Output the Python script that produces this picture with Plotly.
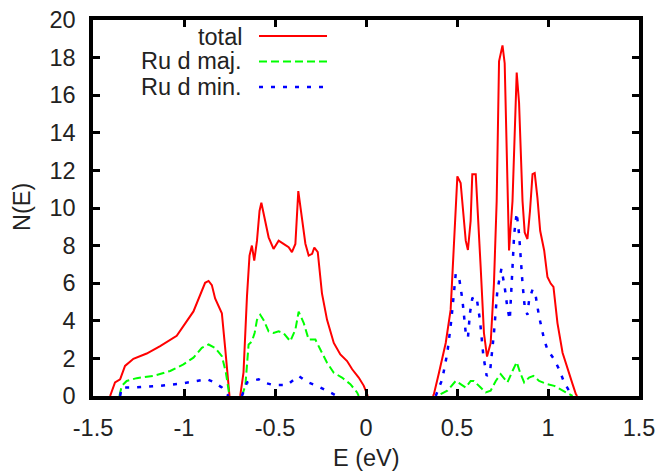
import plotly.graph_objects as go

# ---- data (E in eV, N(E)) ----
# total DOS
e_total = [-1.406, -1.379, -1.351, -1.324, -1.278, -1.205, -1.131, -1.04, -0.948, -0.911, -0.884, -0.865,
           -0.847, -0.829, -0.81, -0.792, -0.773, -0.755, -0.75, None, -0.691, -0.673, -0.654, -0.64, -0.627,
           -0.614, -0.599, -0.585, -0.575, -0.559, -0.535, -0.508, -0.48, -0.453, -0.425, -0.407, -0.388,
           -0.372, -0.351, -0.333, -0.315, -0.296, -0.284, -0.265, -0.242, -0.214, -0.177, -0.141, -0.104,
           -0.076, -0.04, -0.012, 0.006, 0.01, None, 0.368, 0.373, 0.401, 0.438, 0.465, 0.483, 0.502, 0.52, 0.548,
           0.56, 0.575, 0.584, 0.603, 0.63, 0.648, 0.665, 0.685, 0.703, 0.718, 0.731, 0.75, 0.762, 0.786,
           0.805, 0.828, 0.841, 0.86, 0.872, 0.887, 0.901, 0.915, 0.927, 0.942, 0.957, 0.979, 0.997, 1.015,
           1.03, 1.052, 1.08, 1.107, 1.135, 1.153, 1.16]
n_total = [0, 0.72, 0.89, 1.6, 1.98, 2.26, 2.65, 3.2, 4.5, 5.37, 6.02, 6.12,
           5.9, 5.19, 4.75, 4.4, 2.47, 0.2, 0, None, 0, 1.25, 5.3, 7.47, 8.0,
           7.2, 8.26, 9.84, 10.28, 9.49, 8.44, 7.82, 8.26, 8.09, 7.91, 7.65, 8.09,
           10.9, 9.3, 8.1, 7.47, 7.56, 7.9, 7.65, 5.46, 4.05, 2.82, 2.21, 1.86,
           1.42, 0.98, 0.54, 0.1, 0, None, 0, 0.1, 1.24, 2.82, 4.58, 8.09, 11.68, 11.33, 8.26,
           7.77, 9.32, 11.8, 11.8, 6.86, 3.35, 2.1, 2.82, 5.98, 10.37, 17.8, 18.65, 17.7, 7.74,
           10.37, 17.2, 15.6, 10.37, 8.7, 8.35, 9.84, 11.8, 11.86, 10.54, 8.79, 7.74, 6.33, 5.98,
           5.8, 3.88, 2.3, 1.42, 0.63, 0.1, 0]

# Ru d majority
e_maj = [-1.355, -1.342, -1.315, -1.26, -1.168, -1.076, -1.003, -0.948, -0.902, -0.865, -0.829,
         -0.792, -0.77, -0.755, -0.75, None, -0.682, -0.663, -0.645, -0.627, -0.612, -0.599, -0.581, -0.563,
         -0.535, -0.508, -0.48, -0.453, -0.416, -0.388, -0.37, -0.342, -0.315, -0.278, -0.251, -0.214,
         -0.177, -0.132, -0.086, -0.049, -0.04, None, 0.41, 0.447, 0.493, 0.52, 0.548, 0.575, 0.593, 0.63,
         0.658, 0.685, 0.713, 0.74, 0.762, 0.777, 0.805, 0.828, 0.847, 0.869, 0.896, 0.92, 0.951, 0.997,
         1.034, 1.08, 1.116, 1.135]
n_maj = [0, 0.54, 0.8, 0.95, 1.07, 1.33, 1.68, 2.04, 2.56, 2.74, 2.56,
         2.12, 1.25, 0.2, 0, None, 0, 0.54, 2.74, 2.9, 3.35, 4.05, 4.32, 4.05,
         3.44, 3.35, 3.44, 3.35, 2.91, 3.53, 4.49, 3.88, 3.0, 3.0, 2.47, 1.77,
         1.24, 0.98, 0.63, 0.19, 0, None, 0.1, 0.28, 0.8, 0.63, 0.45, 0.8, 0.8, 0.45,
         0.19, 0.28, 0.8, 1.16, 0.89, 0.72, 1.33, 1.8, 1.24, 0.72, 0.98, 1.07, 0.8, 0.63,
         0.54, 0.28, 0.1, 0]

# Ru d minority
e_min = [-1.351, -1.342, -1.278, -1.131, -1.003, -0.929, -0.874, -0.838, -0.792, -0.764, -0.755,
         None, -0.682, -0.654, -0.627, -0.59, -0.563, -0.508, -0.434, -0.37, -0.324, -0.269, -0.214, -0.159,
         None, 0.383, 0.419, 0.447, 0.469, 0.493, 0.511, 0.53, 0.548, 0.56, 0.571, 0.584, 0.607, 0.626, 0.645,
         0.663, 0.681, 0.703, 0.722, 0.744, 0.762, 0.777, 0.79, 0.805, 0.814, 0.828, 0.841, 0.86, 0.872,
         0.887, 0.896, 0.915, 0.933, 0.951, 0.979, 0.997, 1.034, 1.061, 1.089, 1.116, 1.135]
n_min = [0, 0.45, 0.45, 0.54, 0.68, 0.8, 0.89, 0.75, 0.45, 0.1, 0,
         None, 0, 0.72, 0.8, 0.89, 0.72, 0.58, 0.58, 1.07, 0.75, 0.54, 0.28, 0,
         None, 0, 0.89, 2.3, 4.05, 6.5, 6.33, 5.1, 3.35, 3.09, 4.4, 5.19, 5.28, 4.05, 2.12,
         1.07, 1.24, 3.35, 5.63, 6.77, 5.8, 4.67, 4.05, 6.86, 8.6, 9.75, 8.6, 5.98, 4.75,
         4.32, 5.1, 5.66, 5.28, 4.23, 3.0, 2.47, 1.95, 1.42, 0.72, 0.28, 0]

x_ticks = [-1.5, -1, -0.5, 0, 0.5, 1, 1.5]
x_ticklabels = ["-1.5", "-1", "-0.5", "0", "0.5", "1", "1.5"]
y_ticks = [0, 2, 4, 6, 8, 10, 12, 14, 16, 18, 20]
y_ticklabels = ["0", "2", "4", "6", "8", "10", "12", "14", "16", "18", "20"]

series_names = ["total", "Ru d maj.", "Ru d min."]
colors = ["#ff0000", "#00ff00", "#0000ff"]
dashes = ["solid", "8px,4px", "4px,8px"]
widths = [2, 2, 2.5]

font_family = "Liberation Sans, Arial, sans-serif"
text_color = "#222222"
fs = 23.5

W, H = 663, 476
ml, mr, mt, mb = 85, 32, 12, 88
page_off = 8
plot_left = page_off + ml
plot_top = page_off + mt
pw = W - ml - mr
ph = H - mt - mb
plot_bottom = plot_top + ph


def px_x(p):
    return (p - plot_left) / pw


def px_y(p):
    return (plot_bottom - p) / ph


fig = go.Figure()
for xs, ys, name, c, d, w in zip([e_total, e_maj, e_min], [n_total, n_maj, n_min],
                                 series_names, colors, dashes, widths):
    fig.add_trace(go.Scatter(x=xs, y=ys, mode="lines", name=name, connectgaps=False,
                             line=dict(color=c, width=w, dash=d), showlegend=False))

# gnuplot-style key: right-aligned text followed by the line sample
legend_rows_y = [36.5, 61.5, 86.5]
sample_rows_y = [36, 61.5, 87]
text_right = 244
samp_x0, samp_x1 = 259, 327
for name, c, d, w, ty, sy in zip(series_names, colors, dashes, widths, legend_rows_y, sample_rows_y):
    fig.add_annotation(x=px_x(text_right), y=px_y(ty), xref="paper", yref="paper",
                       text=name, showarrow=False, xanchor="right", yanchor="middle",
                       font=dict(family=font_family, size=fs, color=text_color))
    fig.add_shape(type="line", xref="paper", yref="paper",
                  x0=px_x(samp_x0), x1=px_x(samp_x1), y0=px_y(sy), y1=px_y(sy),
                  line=dict(color=c, width=w, dash=d))

# axis titles
fig.add_annotation(x=px_x(366), y=px_y(458), xref="paper", yref="paper", text="E (eV)",
                   showarrow=False, xanchor="center", yanchor="middle",
                   font=dict(family=font_family, size=fs, color=text_color))
fig.add_annotation(x=px_x(22), y=px_y(207), xref="paper", yref="paper", text="N(E)",
                   showarrow=False, xanchor="center", yanchor="middle", textangle=-90,
                   font=dict(family=font_family, size=fs, color=text_color))

axis_common = dict(showline=True, linecolor="black", linewidth=3.5, mirror="ticks",
                   ticks="inside", ticklen=7, tickwidth=2.5, tickcolor="black",
                   showgrid=False, zeroline=False, automargin=False,
                   ticklabeloverflow="allow",
                   tickfont=dict(family=font_family, size=fs, color=text_color))

fig.update_layout(
    width=W, height=H,
    margin=dict(l=ml, r=mr, t=mt, b=mb),
    plot_bgcolor="white", paper_bgcolor="white",
    xaxis=dict(range=[-1.5, 1.5], tickvals=x_ticks, ticktext=x_ticklabels, ticklabelstandoff=8,
               **axis_common),
    yaxis=dict(range=[0, 20], tickvals=y_ticks, ticktext=y_ticklabels, ticklabelstandoff=9,
               **axis_common),
)

fig.write_html("out.html")
